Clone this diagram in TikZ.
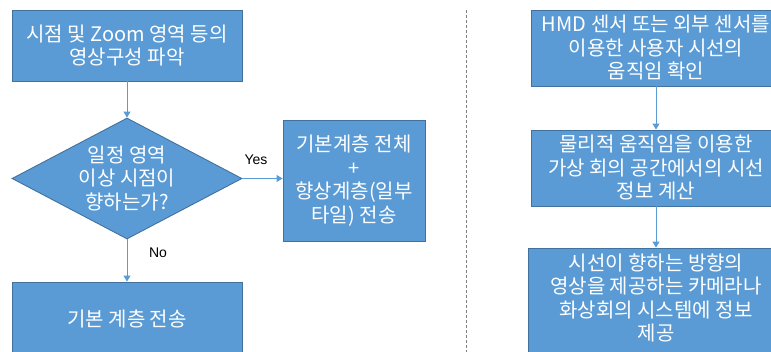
\documentclass[tikz,border=0pt]{standalone}
\usepackage{fontspec}
\setmainfont{Noto Sans CJK KR}
\newfontfamily\latinfont{Liberation Sans}
\usetikzlibrary{shapes.geometric,arrows.meta}
\definecolor{boxfill}{HTML}{5B9BD5}
\definecolor{boxline}{HTML}{41719C}
\definecolor{arrowcol}{HTML}{5B9BD5}
\tikzset{
  box/.style={draw=boxline, fill=boxfill, line width=0.9pt, text=white, align=center,
    font=\fontsize{20}{23.5}\selectfont, inner sep=0pt},
  decision/.style={box, shape=diamond, aspect=1.9},
  flow/.style={draw=arrowcol, line width=1pt, -{Triangle[width=7pt,length=6pt]}},
  lbl/.style={font=\latinfont\fontsize{14}{16}\selectfont, text=black, inner sep=0pt},
  divider/.style={draw=gray, line width=0.8pt, dash pattern=on 3pt off 2pt}
}
\begin{document}
\begin{tikzpicture}[x=1pt,y=-1pt]
\useasboundingbox (0,0) rectangle (771,351);
\clip (0,0) rectangle (771,351);
% left flow
\node[box, minimum width=230pt, minimum height=71pt] (b1) at (127,45.5) {시점 및 Zoom 영역 등의\\영상구성 파악};
\node[decision, minimum width=230pt, minimum height=121pt] (dia) at (127,178.5) {일정 영역\\이상 시점이\\향하는가?};
\node[box, minimum width=142pt, minimum height=121pt] (b3) at (354,180.5) {기본계층 전체\\+\\향상계층(일부\\타일) 전송};
\node[box, minimum width=230pt, minimum height=73pt] (b4) at (127,318.5) {기본 계층 전송};
\draw[flow] (b1.south) -- (dia.north);
\draw[flow] (dia.east) -- (dia.east -| b3.west);
\draw[flow] (dia.south) -- (b4.north);
\node[lbl] (yes) at (256,160) {Yes};
\node[lbl] (no) at (158,253) {No};
% divider
\coordinate (dtop) at (466,10);
\coordinate (dbot) at (466,352);
\draw[divider] (dtop) -- (dbot);
% right flow
\node[box, minimum width=250pt, minimum height=76pt] (rA) at (656,48) {HMD 센서 또는 외부 센서를\\이용한 사용자 시선의\\움직임 확인};
\node[box, minimum width=250pt, minimum height=76pt] (rB) at (656,168) {물리적 움직임을 이용한\\가상 회의 공간에서의 시선\\정보 계산};
\node[box, minimum width=256pt, minimum height=107pt] (rC) at (656,301.5) {시선이 향하는 방향의\\영상을 제공하는 카메라나\\화상회의 시스템에 정보\\제공\\[-15pt]\mbox{}};
\draw[flow] (rA.south) -- (rB.north);
\draw[flow] (rB.south) -- (rC.north);
\end{tikzpicture}
\end{document}
